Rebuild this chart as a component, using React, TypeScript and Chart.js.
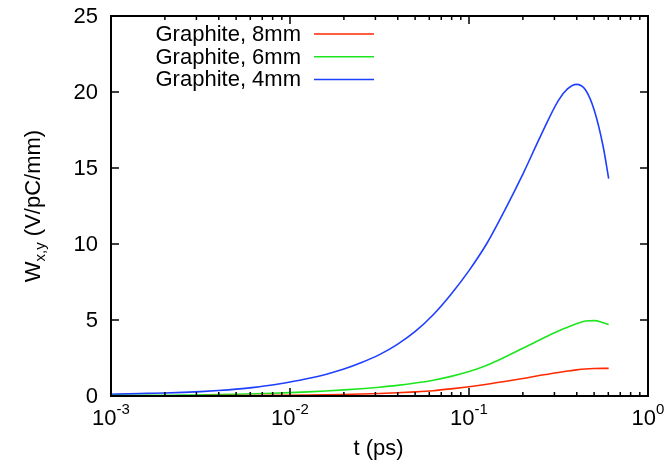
import React, { useEffect, useRef } from "react";
import { Chart, registerables } from "chart.js";

Chart.register(...registerables);

// time samples (ps), log-spaced (0.1 decade, finer near the peak)
const times = [
  0.001, 0.00126, 0.00158, 0.002, 0.00251, 0.00316, 0.00398, 0.00501, 0.00631, 0.00794,
  0.01, 0.0126, 0.0158, 0.02, 0.0251, 0.0316, 0.0398, 0.0501, 0.0631, 0.0794,
  0.1, 0.126, 0.158, 0.2, 0.251, 0.316, 0.355, 0.398, 0.447, 0.501, 0.562, 0.603,
];

// wake potential W_x,y (V/pC/mm)
const graphite8mm = [
  0.01, 0.01, 0.012, 0.014, 0.016, 0.02, 0.024, 0.03, 0.036, 0.044,
  0.054, 0.066, 0.08, 0.1, 0.13, 0.165, 0.21, 0.27, 0.35, 0.47,
  0.61, 0.77, 0.95, 1.15, 1.36, 1.55, 1.64, 1.72, 1.78, 1.81, 1.82, 1.82,
];
const graphite6mm = [
  0.03, 0.035, 0.04, 0.05, 0.06, 0.075, 0.09, 0.115, 0.145, 0.18,
  0.22, 0.27, 0.33, 0.4, 0.48, 0.58, 0.7, 0.85, 1.04, 1.29,
  1.61, 2.03, 2.55, 3.14, 3.72, 4.28, 4.52, 4.75, 4.93, 4.96, 4.82, 4.7,
];
const graphite4mm = [
  0.12, 0.14, 0.17, 0.2, 0.24, 0.29, 0.36, 0.45, 0.57, 0.72,
  0.92, 1.15, 1.42, 1.77, 2.2, 2.72, 3.4, 4.25, 5.35, 6.7,
  8.25, 10.05, 12.2, 14.6, 17.1, 19.45, 20.2, 20.5, 20.15, 18.8, 16.4, 14.3,
];

const seriesLabels = ["Graphite, 8mm", "Graphite, 6mm", "Graphite, 4mm"];
const seriesColors = ["#ff2a00", "#1ee61e", "#1f3fff"];

const xDecades = [-3, -2, -1, 0];
const yTicks = [0, 5, 10, 15, 20, 25];

const FONT = "Liberation Sans, Arial, Helvetica, sans-serif";
const BIG = `22px ${FONT}`;
const SMALL = `15px ${FONT}`;

const framePlugin = {
  id: "gnuplotFrame",
  afterDraw(chart: any) {
    const { ctx, chartArea: a, scales } = chart;
    const xs = scales.x;
    const ys = scales.y;
    ctx.save();

    // frame
    ctx.strokeStyle = "#000";
    ctx.lineWidth = 2;
    ctx.strokeRect(a.left, a.top, a.right - a.left, a.bottom - a.top);

    // y ticks (inward, both sides)
    ctx.lineWidth = 1.5;
    ctx.fillStyle = "#000";
    ctx.font = BIG;
    ctx.textAlign = "right";
    ctx.textBaseline = "middle";
    yTicks.forEach((v) => {
      const y = ys.getPixelForValue(v);
      ctx.beginPath();
      ctx.moveTo(a.left, y);
      ctx.lineTo(a.left + 8, y);
      ctx.moveTo(a.right, y);
      ctx.lineTo(a.right - 8, y);
      ctx.stroke();
      ctx.fillText(String(v), a.left - 13, y + 1);
    });

    // x ticks: decades and minor ticks
    xDecades.forEach((d, i) => {
      const x = xs.getPixelForValue(Math.pow(10, d));
      ctx.beginPath();
      ctx.moveTo(x, a.bottom);
      ctx.lineTo(x, a.bottom - 8);
      ctx.moveTo(x, a.top);
      ctx.lineTo(x, a.top + 8);
      ctx.stroke();
      if (i < xDecades.length - 1) {
        for (let m = 2; m <= 9; m++) {
          const xm = xs.getPixelForValue(m * Math.pow(10, d));
          ctx.beginPath();
          ctx.moveTo(xm, a.bottom);
          ctx.lineTo(xm, a.bottom - 4);
          ctx.moveTo(xm, a.top);
          ctx.lineTo(xm, a.top + 4);
          ctx.stroke();
        }
      }
      // label 10^d
      const base = "10";
      const sup = String(d);
      ctx.font = BIG;
      const wb = ctx.measureText(base).width;
      ctx.font = SMALL;
      const ws = ctx.measureText(sup).width;
      const start = x - (wb + ws) / 2;
      ctx.textAlign = "left";
      ctx.textBaseline = "alphabetic";
      ctx.font = BIG;
      ctx.fillText(base, start, a.bottom + 29);
      ctx.font = SMALL;
      ctx.fillText(sup, start + wb, a.bottom + 18);
    });

    // x axis title
    ctx.font = BIG;
    ctx.textAlign = "center";
    ctx.textBaseline = "alphabetic";
    ctx.fillText("t (ps)", (a.left + a.right) / 2 - 1, a.bottom + 59);

    // y axis title with subscript
    ctx.save();
    ctx.translate(40, (a.top + a.bottom) / 2);
    ctx.rotate(-Math.PI / 2);
    const p1 = "W";
    const sub = "x,y";
    const p2 = " (V/pC/mm)";
    ctx.font = BIG;
    const w1 = ctx.measureText(p1).width;
    const w3 = ctx.measureText(p2).width;
    ctx.font = SMALL;
    const w2 = ctx.measureText(sub).width;
    let sx = -(w1 + w2 + w3) / 2;
    ctx.textAlign = "left";
    ctx.font = BIG;
    ctx.fillText(p1, sx, 0);
    sx += w1;
    ctx.font = SMALL;
    ctx.fillText(sub, sx, 5);
    sx += w2;
    ctx.font = BIG;
    ctx.fillText(p2, sx, 0);
    ctx.restore();

    // key: label text followed by line sample
    ctx.font = BIG;
    ctx.textAlign = "right";
    ctx.textBaseline = "middle";
    seriesLabels.forEach((lab, i) => {
      const y = a.top + 18 + i * 22.7;
      ctx.fillStyle = "#000";
      ctx.fillText(lab, a.left + 190, y + 1);
      ctx.strokeStyle = seriesColors[i];
      ctx.lineWidth = 1.5;
      ctx.beginPath();
      ctx.moveTo(a.left + 203, y);
      ctx.lineTo(a.left + 263, y);
      ctx.stroke();
    });

    ctx.restore();
  },
};

export default function App() {
  const ref = useRef<HTMLCanvasElement>(null);

  useEffect(() => {
    if (!ref.current) return;
    const mk = (vals: number[]) => times.map((t, i) => ({ x: t, y: vals[i] }));
    const all = [graphite8mm, graphite6mm, graphite4mm];
    const chart = new Chart(ref.current, {
      type: "line",
      data: {
        datasets: all.map((vals, i) => ({
          label: seriesLabels[i],
          data: mk(vals),
          borderColor: seriesColors[i],
          borderWidth: 1.6,
          pointRadius: 0,
          cubicInterpolationMode: "monotone" as const,
          fill: false,
        })),
      },
      options: {
        animation: false,
        responsive: false,
        maintainAspectRatio: false,
        layout: { padding: { left: 111, right: 19, top: 16, bottom: 71 } },
        plugins: { legend: { display: false }, tooltip: { enabled: false } },
        scales: {
          x: {
            type: "logarithmic",
            min: 0.001,
            max: 1,
            grid: { display: false, drawTicks: false },
            border: { display: false },
            ticks: { display: false },
            afterFit: (s: any) => {
              s.height = 0;
            },
          },
          y: {
            type: "linear",
            min: 0,
            max: 25,
            grid: { display: false, drawTicks: false },
            border: { display: false },
            ticks: { display: false },
            afterFit: (s: any) => {
              s.width = 0;
            },
          },
        },
      },
      plugins: [framePlugin],
    });
    return () => chart.destroy();
  }, []);

  return (
    <div style={{ position: "fixed", left: 0, top: 0, width: 667, height: 467, background: "#fff" }}>
      <canvas ref={ref} width={667} height={467} style={{ width: 667, height: 467 }} />
    </div>
  );
}
